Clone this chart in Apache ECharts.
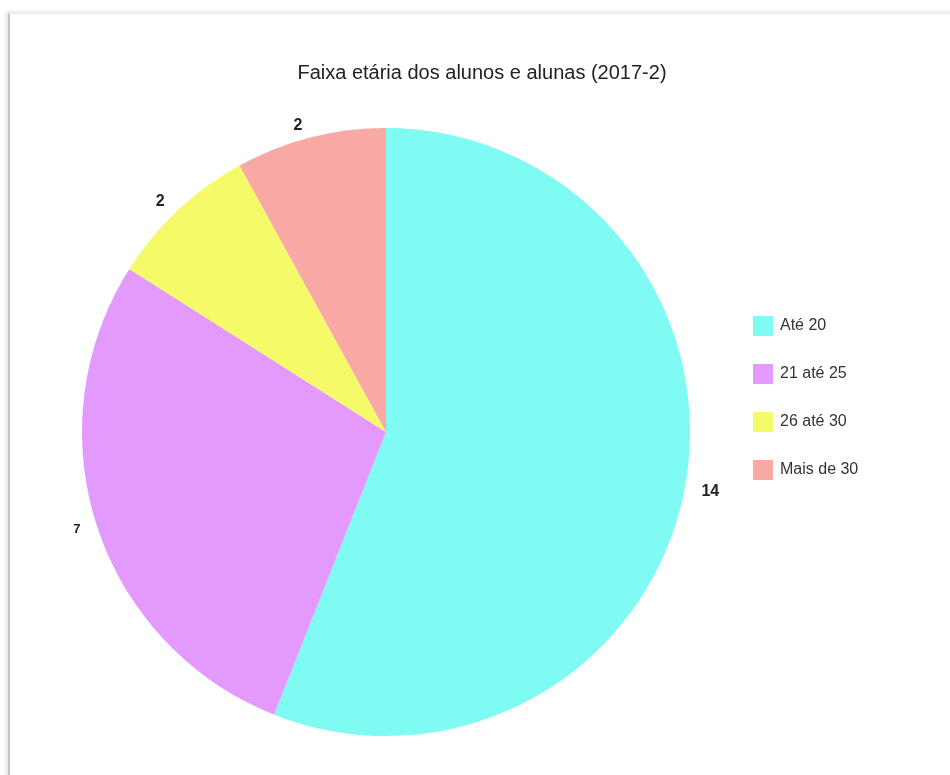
<!DOCTYPE html>
<html>
<head>
<meta charset="utf-8">
<script src="https://cdn.jsdelivr.net/npm/echarts@6/dist/echarts.min.js"></script>
<style>
  html, body { margin: 0; padding: 0; background: #ffffff; }
  #wrap { position: relative; width: 950px; height: 775px; overflow: hidden; }
  #card {
    position: absolute; left: 8px; top: 13px; width: 960px; height: 800px;
    background: #ffffff;
    border-left: 2px solid #c4c4c4;
    border-top: 1px solid #ececec;
    box-shadow: -2px -1px 4px rgba(0,0,0,0.12);
  }
  #chart { position: absolute; left: 0; top: 0; width: 950px; height: 775px; }
</style>
</head>
<body>
<div id="wrap">
  <div id="card"></div>
  <div id="chart"></div>
</div>
<script>
// Age brackets of the 2017-2 student group
const titleText = 'Faixa etária dos alunos e alunas (2017-2)';
const categories = ['Até 20', '21 até 25', '26 até 30', 'Mais de 30'];
const counts = [14, 7, 2, 2];
const colors = ['#80fbf3', '#e49afd', '#f5fb68', '#f8a9a6'];

const chart = echarts.init(document.getElementById('chart'), null, { renderer: 'canvas' });

const pieData = categories.map((name, i) => ({
  name: name,
  value: counts[i],
  itemStyle: { color: colors[i] },
  label: counts[i] === 7 ? { fontSize: 13 } : {}
}));

chart.setOption({
  backgroundColor: 'transparent',
  animation: false,
  title: {
    text: titleText,
    left: 477,
    top: 58,
    textAlign: 'center',
    textStyle: {
      fontFamily: 'Liberation Sans, Arial, sans-serif',
      fontSize: 20,
      fontWeight: 'normal',
      color: '#222222'
    }
  },
  legend: {
    orient: 'vertical',
    left: 748,
    top: 311,
    itemWidth: 20,
    itemHeight: 20,
    itemGap: 28,
    icon: 'rect',
    data: categories,
    textStyle: {
      fontFamily: 'Liberation Sans, Arial, sans-serif',
      fontSize: 16,
      color: '#333333',
      padding: [0, 0, 0, 2]
    }
  },
  series: [{
    type: 'pie',
    center: [386, 432],
    radius: 304,
    startAngle: 90,
    clockwise: true,
    avoidLabelOverlap: false,
    data: pieData,
    label: {
      show: true,
      position: 'outside',
      formatter: '{c}',
      fontFamily: 'Liberation Sans, Arial, sans-serif',
      fontSize: 16,
      fontWeight: 'bold',
      color: '#222222'
    },
    labelLine: { show: false, length: 12, length2: 0 },
    emphasis: { disabled: true }
  }]
});
</script>
</body>
</html>
